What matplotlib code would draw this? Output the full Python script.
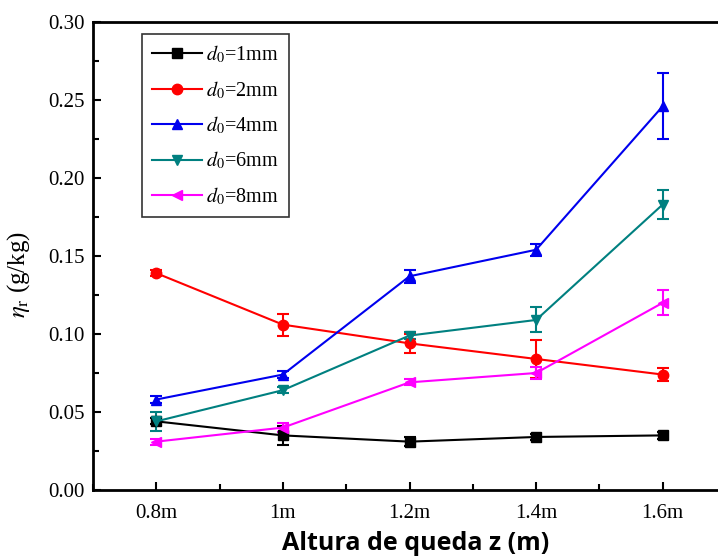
import numpy as np
import matplotlib
matplotlib.use("Agg")
import matplotlib.pyplot as plt
from matplotlib.ticker import MultipleLocator, FormatStrFormatter

# drop heights (categorical x axis)
heights = ["0.8m", "1m", "1.2m", "1.4m", "1.6m"]

# eta_r (g/kg) per droplet diameter, with error bars
d1 = [0.044, 0.035, 0.031, 0.034, 0.035]
d1_err = [0.002, 0.006, 0.003, 0.002, 0.002]
d2 = [0.139, 0.106, 0.094, 0.084, 0.074]
d2_err = [0.002, 0.007, 0.006, 0.012, 0.004]
d4 = [0.058, 0.074, 0.137, 0.154, 0.246]
d4_err = [0.002, 0.002, 0.004, 0.004, 0.021]
d6 = [0.044, 0.064, 0.099, 0.109, 0.183]
d6_err = [0.006, 0.002, 0.002, 0.008, 0.009]
d8 = [0.031, 0.040, 0.069, 0.075, 0.120]
d8_err = [0.002, 0.003, 0.002, 0.004, 0.008]

labels = ["$d_0$=1mm", "$d_0$=2mm", "$d_0$=4mm", "$d_0$=6mm", "$d_0$=8mm"]
series = [(d1, d1_err), (d2, d2_err), (d4, d4_err), (d6, d6_err), (d8, d8_err)]
colors = ["black", "#ff0000", "#0000ee", "#008080", "#ff00ff"]
markers = ["s", "o", "^", "v", "<"]

plt.rcParams["font.family"] = ["Liberation Serif", "DejaVu Serif"]
plt.rcParams["mathtext.fontset"] = "stix"

fig = plt.figure(figsize=(7.18, 5.59), dpi=100)
# right edge deliberately past the figure: the reference is cropped there
ax = fig.add_axes([93 / 718, 69 / 559, 633 / 718, 468 / 559])

x = np.arange(len(heights))
handles = []
for (vals, err), lab, c, m in zip(series, labels, colors, markers):
    eb = ax.errorbar(x, vals, yerr=err, color=c, marker=m, markersize=7.5, lw=1.5,
                     capsize=4, capthick=1.5, elinewidth=1.5, label=lab)
    handles.append(eb.lines[0])

ax.set_xlim(-0.5, 4.5)
ax.set_ylim(0, 0.30)
ax.set_xticks(x)
ax.set_xticklabels(heights)
ax.xaxis.set_minor_locator(MultipleLocator(0.5))
ax.yaxis.set_major_locator(MultipleLocator(0.05))
ax.yaxis.set_minor_locator(MultipleLocator(0.025))
ax.yaxis.set_major_formatter(FormatStrFormatter("%.2f"))
ax.tick_params(which="both", direction="in", top=False, right=False,
               labelsize=15, width=1.5)
ax.tick_params(which="major", length=6)
ax.tick_params(which="minor", length=4)
ax.tick_params(axis="y", pad=6)
ax.tick_params(axis="x", pad=10)
for s in ax.spines.values():
    s.set_linewidth(2)

ax.set_ylabel(r"$\eta_{\rm r}$ (g/kg)", fontsize=18)
ax.yaxis.set_label_coords(-0.097, 0.46)
ax.set_xlabel("Altura de queda z (m)", fontsize=18, fontweight="bold",
              family=["Open Sans", "DejaVu Sans"])
ax.xaxis.set_label_coords(0.51, -0.087)

leg = ax.legend(handles=handles, labels=labels, loc="upper left",
                bbox_to_anchor=(0.077, 0.975), fontsize=14.5,
                frameon=True, fancybox=False, edgecolor="black",
                handlelength=2.5, borderpad=0.5, labelspacing=0.68,
                handletextpad=0.2, borderaxespad=0)
leg.get_frame().set_linewidth(1.2)

fig.savefig("out.png", dpi=100)
